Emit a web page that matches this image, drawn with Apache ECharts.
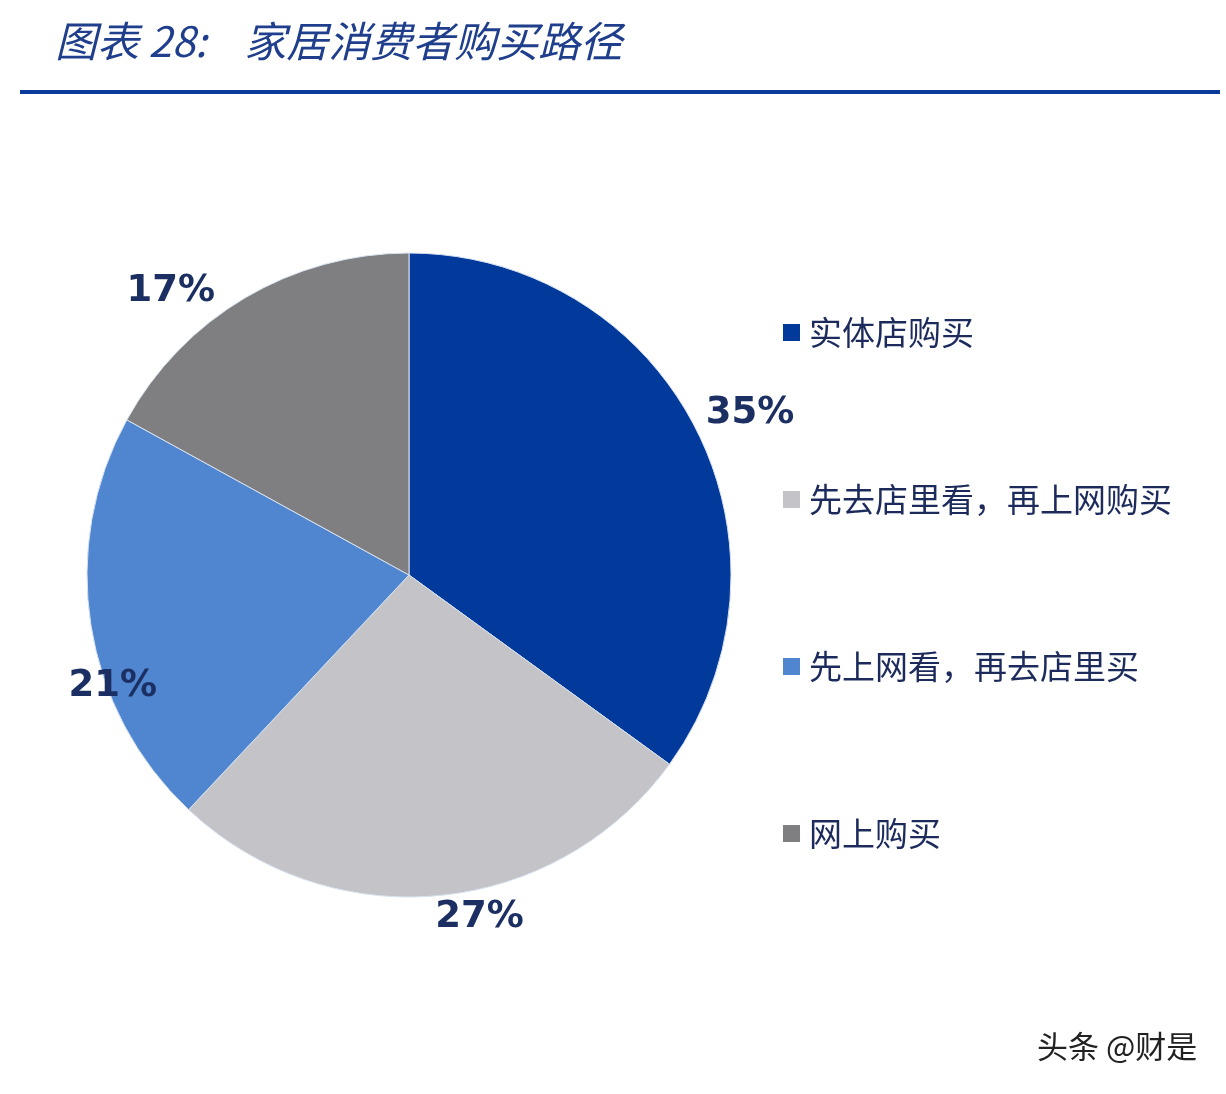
<!DOCTYPE html>
<html>
<head>
<meta charset="utf-8">
<script src="https://cdn.jsdelivr.net/npm/echarts@6/dist/echarts.min.js"></script>
<style>
  html, body { margin: 0; padding: 0; background: #fff; }
  #main { width: 1226px; height: 1094px; }
</style>
</head>
<body>
<div id="main"></div>
<script>
var categories = ['实体店购买', '先去店里看，再上网购买', '先上网看，再去店里买', '网上购买']
var shares = [35, 27, 21, 17]
var colors = ['#023a9c', '#c4c4c8', '#4f86cf', '#7f7f82']
// nudges for the percentage labels, by slice
var labelShift = [[-4, -11], [-10, 12], [81, 59], [-20, 2]]

var myChart = echarts.init(document.getElementById('main'))

var option = {
	animation: false,
	graphic: [
		{
			type: 'text',
			left: 55,
			top: 20,
			style: {
				text: '图表 28:    家居消费者购买路径',
				font: 'italic 42px "Noto Sans CJK SC"',
				fill: '#1f3e8c',
			},
		},
		{
			type: 'rect',
			shape: { x: 20, y: 90, width: 1200, height: 4 },
			style: { fill: '#0b3c9b' },
		},
		{
			type: 'text',
			left: 1037,
			top: 1031,
			style: {
				text: '头条 @财是',
				font: '31px "Noto Sans CJK SC"',
				fill: '#222',
			},
		},
	],
	legend: {
		orient: 'vertical',
		left: 783,
		top: 316,
		padding: 0,
		itemGap: 134,
		itemWidth: 17,
		itemHeight: 17,
		icon: 'rect',
		data: categories,
		itemStyle: { borderWidth: 0 },
		textStyle: {
			fontFamily: 'Noto Sans CJK SC',
			fontSize: 33,
			lineHeight: 32,
			color: '#1c2b5c',
			padding: [0, 0, 0, 4],
		},
	},
	series: [
		{
			type: 'pie',
			center: [409, 575],
			radius: 322,
			startAngle: 90,
			clockwise: true,
			data: categories.map(function (name, i) {
				return { name: name, value: shares[i], itemStyle: { color: colors[i] } }
			}),
			itemStyle: {
				borderColor: '#d8e2f0',
				borderWidth: 1,
			},
			label: {
				show: true,
				position: 'outside',
				formatter: '{c}%',
				fontFamily: 'DejaVu Sans',
				fontWeight: 'bold',
				fontSize: 37,
				color: '#1c2f63',
				overflow: 'none',
			},
			labelLine: { show: false, length: 10, length2: 0 },
			labelLayout: function (params) {
				var s = labelShift[params.dataIndex]
				return { dx: s[0], dy: s[1] }
			},
		},
	],
}
myChart.setOption(option)
</script>
</body>
</html>
